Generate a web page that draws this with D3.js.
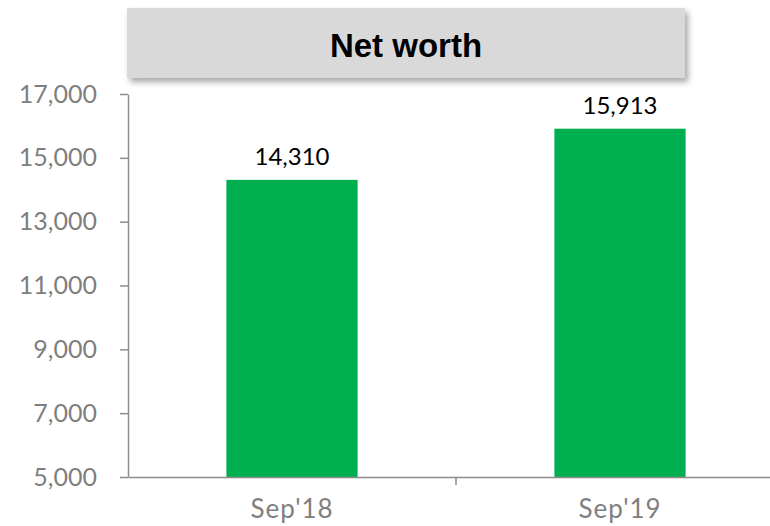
<!DOCTYPE html>
<html>
<head>
<meta charset="utf-8">
<script src="https://cdn.jsdelivr.net/npm/d3@7"></script>
<style>
  body { margin: 0; background: #fff; }
  svg { display: block; }
</style>
</head>
<body>
<div class="canvas"></div>
<script>
const categories = ["Sep'18", "Sep'19"];
const values = [14310, 15913];
const yTicks = [5000, 7000, 9000, 11000, 13000, 15000, 17000];
const title = 'Net worth';

const dims = { width: 770, height: 526 };
const margin = { left: 128, right: -14, top: 94, bottom: 49 };

const svg = d3.select('.canvas')
    .append('svg')
    .attr('width', dims.width)
    .attr('height', dims.height);

const defs = svg.append('defs');
const shadow = defs.append('filter')
    .attr('id', 'shadow')
    .attr('x', '-5%').attr('y', '-20%')
    .attr('width', '115%').attr('height', '160%');
shadow.append('feDropShadow')
    .attr('dx', 3).attr('dy', 4)
    .attr('stdDeviation', 3)
    .attr('flood-color', '#000')
    .attr('flood-opacity', 0.35);

const x = d3.scaleBand()
    .domain(categories)
    .range([margin.left, dims.width - margin.right])
    .paddingInner(0.6)
    .paddingOuter(0.3);

const y = d3.scaleLinear()
    .domain([5000, 17000])
    .range([dims.height - margin.bottom, margin.top]);

// title box
const tb = svg.append('g');
tb.append('rect')
    .attr('x', 127).attr('y', 8)
    .attr('width', 558).attr('height', 70)
    .attr('fill', '#d9d9d9')
    .attr('filter', 'url(#shadow)');
tb.append('text')
    .attr('x', 127 + 558 / 2).attr('y', 45)
    .attr('text-anchor', 'middle')
    .attr('dominant-baseline', 'central')
    .attr('font-family', 'Liberation Sans, Arial, sans-serif')
    .attr('font-weight', 'bold')
    .attr('font-size', 33)
    .attr('fill', '#000')
    .text(title);

// bars
svg.selectAll('rect.bar')
    .data(values)
    .enter()
    .append('rect')
      .attr('class', 'bar')
      .attr('x', (d, i) => x(categories[i]))
      .attr('width', x.bandwidth())
      .attr('y', d => y(d))
      .attr('height', d => y(5000) - y(d))
      .attr('fill', '#00b050');

// value labels
svg.selectAll('text.val')
    .data(values)
    .enter()
    .append('text')
      .attr('class', 'val')
      .attr('x', (d, i) => x(categories[i]) + x.bandwidth() / 2)
      .attr('y', d => y(d) - 15)
      .attr('text-anchor', 'middle')
      .attr('font-family', 'Lato, sans-serif')
      .attr('font-size', 24)
      .attr('fill', '#000')
      .text(d => d3.format(',')(d));

// y axis
const yAxis = svg.append('g')
    .attr('transform', `translate(${margin.left},0)`)
    .call(d3.axisLeft(y).tickValues(yTicks).tickFormat(d3.format(',')).tickSize(8).tickSizeOuter(0).tickPadding(23));

// x axis
const xAxis = svg.append('g')
    .attr('transform', `translate(0,${y(5000)})`)
    .call(d3.axisBottom(x).tickSize(0).tickPadding(23));

// category boundary tick
const mid = (x(categories[0]) + x.bandwidth() + x(categories[1])) / 2;
xAxis.append('line')
    .attr('x1', mid).attr('x2', mid)
    .attr('y1', 0).attr('y2', 8)
    .attr('stroke', '#8c8c8c').attr('stroke-width', 1.5);

[yAxis, xAxis].forEach(g => {
    g.select('.domain').attr('stroke', '#8c8c8c').attr('stroke-width', 1.5);
    g.selectAll('.tick line').attr('stroke', '#8c8c8c').attr('stroke-width', 1.5);
    g.selectAll('.tick text')
        .attr('font-family', 'Lato, sans-serif')
        .attr('font-size', 25)
        .attr('fill', '#7f7f7f');
});
xAxis.selectAll('.tick text')
    .attr('font-size', 26)
    .attr('letter-spacing', 1);
</script>
</body>
</html>
